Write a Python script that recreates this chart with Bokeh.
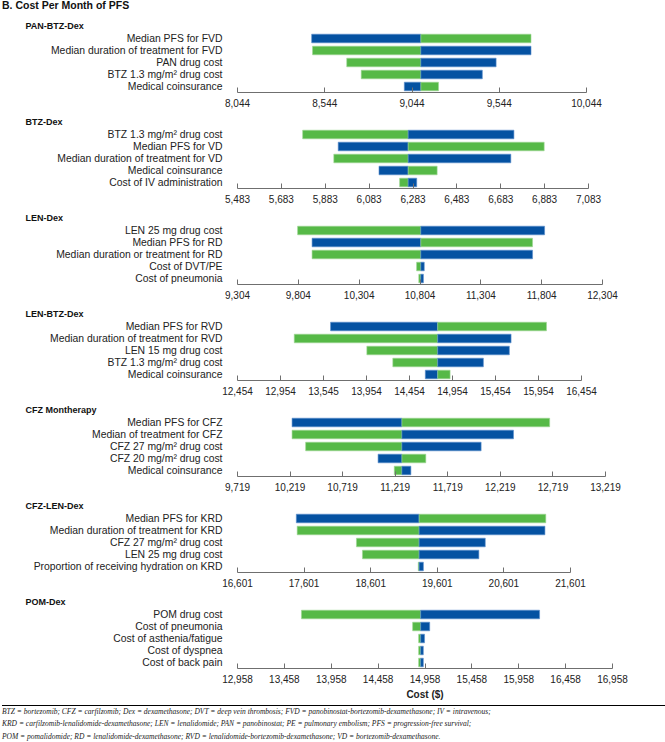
from bokeh.plotting import figure
from bokeh.models import Range1d, FactorRange, FixedTicker, Div
from bokeh.layouts import column
from bokeh.embed import file_html
from bokeh.resources import INLINE

# ---------------- data ----------------
chart_title = "B. Cost Per Month of PFS"
panel_names = ["PAN-BTZ-Dex", "BTZ-Dex", "LEN-Dex", "LEN-BTZ-Dex",
               "CFZ Montherapy", "CFZ-LEN-Dex", "POM-Dex"]

# PAN-BTZ-Dex
pan_params = ["Median PFS for FVD", "Median duration of treatment for FVD", "PAN drug cost",
              "BTZ 1.3 mg/m² drug cost", "Medical coinsurance"]
pan_left = [8469, 8474, 8670, 8753, 9000]
pan_right = [9726, 9726, 9526, 9447, 9196]
pan_left_from = ["Upper", "Lower", "Lower", "Lower", "Upper"]
pan_base = 9095
pan_ticks = [8044, 8544, 9044, 9544, 10044]
pan_tick_labels = ["8,044", "8,544", "9,044", "9,544", "10,044"]

# BTZ-Dex
btz_params = ["BTZ 1.3 mg/m² drug cost", "Median PFS for VD", "Median duration of treatment for VD",
              "Medical coinsurance", "Cost of IV administration"]
btz_left = [5780, 5942, 5922, 6128, 6222]
btz_right = [6743, 6881, 6729, 6393, 6300]
btz_left_from = ["Lower", "Upper", "Lower", "Upper", "Lower"]
btz_base = 6261
btz_ticks = [5483, 5683, 5883, 6083, 6283, 6483, 6683, 6883, 7083]
btz_tick_labels = ["5,483", "5,683", "5,883", "6,083", "6,283", "6,483", "6,683", "6,883", "7,083"]

# LEN-Dex
len_params = ["LEN 25 mg drug cost", "Median PFS for RD", "Median duration or treatment for RD",
              "Cost of DVT/PE", "Cost of pneumonia"]
len_left = [9798, 9917, 9917, 10776, 10794]
len_right = [11828, 11729, 11729, 10839, 10832]
len_left_from = ["Lower", "Upper", "Lower", "Lower", "Lower"]
len_base = 10811
len_ticks = [9304, 9804, 10304, 10804, 11304, 11804, 12304]
len_tick_labels = ["9,304", "9,804", "10,304", "10,804", "11,304", "11,804", "12,304"]

# LEN-BTZ-Dex
rvd_params = ["Median PFS for RVD", "Median duration of treatment for RVD", "LEN 15 mg drug cost",
              "BTZ 1.3 mg/m² drug cost", "Medical coinsurance"]
rvd_left = [13536, 13114, 13958, 14260, 14638]
rvd_right = [16047, 15635, 15615, 15313, 14926]
rvd_left_from = ["Upper", "Lower", "Lower", "Lower", "Upper"]
rvd_base = 14782
rvd_ticks = [12454, 12954, 13454, 13954, 14454, 14954, 15454, 15954, 16454]
rvd_tick_labels = ["12,454", "12,954", "13,545", "13,954", "14,454", "14,954", "15,454", "15,954", "16,454"]

# CFZ Montherapy
cfz_params = ["Median PFS for CFZ", "Median of treatment for CFZ", "CFZ 27 mg/m² drug cost",
              "CFZ 20 mg/m² drug cost", "Medical coinsurance"]
cfz_left = [10238, 10238, 10367, 11056, 11210]
cfz_right = [12688, 12344, 12036, 11510, 11368]
cfz_left_from = ["Upper", "Lower", "Lower", "Upper", "Lower"]
cfz_base = 11283
cfz_ticks = [9719, 10219, 10719, 11219, 11719, 12219, 12719, 13219]
cfz_tick_labels = ["9,719", "10,219", "10,719", "11,219", "11,719", "12,219", "12,719", "13,219"]

# CFZ-LEN-Dex
krd_params = ["Median PFS for KRD", "Median duration of treatment for KRD", "CFZ 27 mg/m² drug cost",
              "LEN 25 mg drug cost", "Proportion of receiving hydration on KRD"]
krd_left = [17484, 17497, 18387, 18477, 19315]
krd_right = [21230, 21217, 20321, 20225, 19392]
krd_left_from = ["Upper", "Lower", "Lower", "Lower", "Lower"]
krd_base = 19328
krd_ticks = [16601, 17601, 18601, 19601, 20601, 21601]
krd_tick_labels = ["16,601", "17,601", "18,601", "19,601", "20,601", "21,601"]

# POM-Dex
pom_params = ["POM drug cost", "Cost of pneumonia", "Cost of asthenia/fatigue",
              "Cost of dyspnea", "Cost of back pain"]
pom_left = [13640, 14826, 14890, 14890, 14890]
pom_right = [16180, 15008, 14953, 14940, 14940]
pom_left_from = ["Lower", "Lower", "Lower", "Lower", "Lower"]
pom_base = 14912
pom_ticks = [12958, 13458, 13958, 14458, 14958, 15458, 15958, 16458, 16958]
pom_tick_labels = ["12,958", "13,458", "13,958", "14,458", "14,958", "15,458", "15,958", "16,458", "16,958"]

x_label = "Cost ($)"
footnote_lines = [
    "BTZ = bortezomib; CFZ = carfilzomib; Dex = dexamethasone; DVT = deep vein thrombosis; FVD = panobinostat-bortezomib-dexamethasone; IV = intravenous;",
    "KRD = carfilzomib-lenalidomide-dexamethasone; LEN = lenalidomide; PAN = panobinostat; PE = pulmonary embolism; PFS = progression-free survival;",
    "POM = pomalidomide; RD = lenalidomide-dexamethasone; RVD = lenalidomide-bortezomib-dexamethasone; VD = bortezomib-dexamethasone.",
]

# ---------------- styling ----------------
FILL = {"Upper": "#0552A2", "Lower": "#56B947"}
EDGE = {"Upper": "#5d8fcc", "Lower": "#9fd695"}
FONT = "Liberation Sans"
LEFT = 240
FRAME_H = 60

panels = [
    (pan_params, pan_left, pan_right, pan_left_from, pan_base, pan_ticks, pan_tick_labels, 349),
    (btz_params, btz_left, btz_right, btz_left_from, btz_base, btz_ticks, btz_tick_labels, 351),
    (len_params, len_left, len_right, len_left_from, len_base, len_ticks, len_tick_labels, 365),
    (rvd_params, rvd_left, rvd_right, rvd_left_from, rvd_base, rvd_ticks, rvd_tick_labels, 344),
    (cfz_params, cfz_left, cfz_right, cfz_left_from, cfz_base, cfz_ticks, cfz_tick_labels, 368),
    (krd_params, krd_left, krd_right, krd_left_from, krd_base, krd_ticks, krd_tick_labels, 333),
    (pom_params, pom_left, pom_right, pom_left_from, pom_base, pom_ticks, pom_tick_labels, 375),
]

items = [Div(text=chart_title, width=660, height=13,
             styles={"font-family": FONT, "font-size": "10.5px", "font-weight": "bold",
                     "line-height": "12px", "color": "#111"})]

other = {"Upper": "Lower", "Lower": "Upper"}
for i, (params, lv, rv, lfrom, base, ticks, tlabels, fw) in enumerate(panels):
    last = i == len(panels) - 1
    p = figure(
        y_range=FactorRange(factors=list(reversed(params))),
        x_range=Range1d(ticks[0], ticks[-1]),
        frame_width=fw, frame_height=FRAME_H,
        min_border_left=LEFT, min_border_right=24,
        min_border_top=14, min_border_bottom=33 if last else 21,
        output_backend="svg", toolbar_location=None,
        title=panel_names[i],
    )
    p.title.align = "left"
    p.title.offset = -212
    p.title.standoff = 3
    p.title.text_font = FONT
    p.title.text_font_size = "9px"
    p.title.text_font_style = "bold"
    p.title.text_color = "#111111"

    p.outline_line_color = None
    p.xgrid.grid_line_color = None
    p.ygrid.grid_line_color = None
    p.background_fill_color = "white"

    lcol = [FILL[s] for s in lfrom]
    rcol = [FILL[other[s]] for s in lfrom]
    lline = [EDGE[s] for s in lfrom]
    rline = [EDGE[other[s]] for s in lfrom]
    p.hbar(y=params, left=lv, right=[base] * len(params), height=0.72,
           fill_color=lcol, line_color=lline, line_width=0.6)
    p.hbar(y=params, left=[base] * len(params), right=rv, height=0.72,
           fill_color=rcol, line_color=rline, line_width=0.6)

    xa = p.xaxis[0]
    xa.ticker = FixedTicker(ticks=ticks)
    xa.major_label_overrides = {t: s for t, s in zip(ticks, tlabels)}
    xa.axis_line_color = "#6f6f6f"
    xa.major_tick_line_color = "#6f6f6f"
    xa.major_tick_in = 5
    xa.major_tick_out = 0
    xa.minor_tick_line_color = None
    xa.major_label_standoff = 6
    xa.major_label_text_font = FONT
    xa.major_label_text_font_size = "10px"
    xa.major_label_text_color = "#222222"
    if last:
        xa.axis_label = x_label
        xa.axis_label_text_font = FONT
        xa.axis_label_text_font_size = "10px"
        xa.axis_label_text_font_style = "bold"
        xa.axis_label_text_color = "#222222"
        xa.axis_label_standoff = 3

    ya = p.yaxis[0]
    ya.axis_line_color = None
    ya.major_tick_line_color = None
    ya.major_tick_in = 0
    ya.major_tick_out = 0
    ya.major_label_standoff = 15
    ya.major_label_text_font = FONT
    ya.major_label_text_font_size = "10.4px"
    ya.major_label_text_color = "#222222"
    items.append(p)

items.append(Div(text="<br>".join(footnote_lines), width=664, height=36,
                 styles={"font-family": "Liberation Serif", "font-size": "7.5px", "font-style": "italic",
                         "line-height": "12.3px", "white-space": "nowrap", "color": "#222",
                         "border-top": "1.5px solid #000", "box-sizing": "border-box",
                         "margin-top": "3px"}))

layout = column(items, spacing=0, styles={"margin-top": "-6px", "margin-left": "-3px"})

open("out.html", "w").write(file_html(layout, INLINE))
